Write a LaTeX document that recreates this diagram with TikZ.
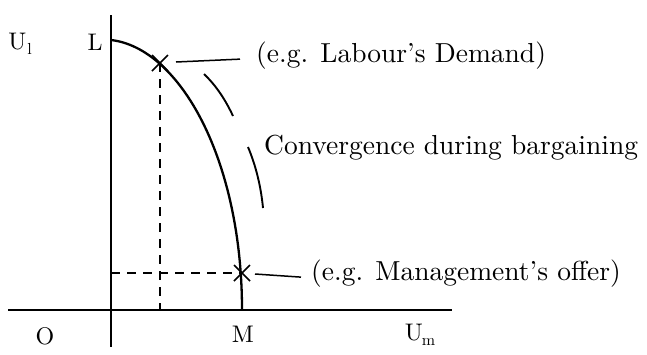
\documentclass[tikz,border=0pt]{standalone}
\usepackage{fontspec}
\setmainfont{lmroman10-regular.otf}
\usepackage{graphicx}
\usetikzlibrary{calc}
\begin{document}
\begin{tikzpicture}[x=1pt,y=-1pt,
  axis/.style={line width=2.3pt},
  frontier/.style={line width=2.3pt},
  guide/.style={line width=1.5pt, dash pattern=on 9pt off 7pt},
  leader/.style={line width=1.5pt},
  arcdash/.style={line width=1.9pt},
  cross/.style={line width=1.7pt},
  bigtext/.style={font=\fontsize{27.5}{30}\selectfont, inner sep=0pt, anchor=base west},
  axlab/.style={font=\fontsize{24}{27}\selectfont, inner sep=0pt, anchor=base}]
\useasboundingbox (0,0) rectangle (647,354);
% axes
\coordinate (O0) at (111,310);
\coordinate (ytop) at (111,15);
\coordinate (ybot) at (111,347);
\coordinate (xleft) at (8,310);
\coordinate (xright) at (452,310);
\draw[axis] (ytop) -- (ybot);
\draw[axis] (xleft) -- (xright);
% frontier
\coordinate (Lpt) at (111,40);
\coordinate (Mpt) at (242,310);
\draw[frontier] (Lpt) .. controls (180,48) and (242,160) .. (Mpt);
% points
\coordinate (A) at (160,63);
\coordinate (B) at (242,273);
\coordinate (Abase) at (160,310);
\coordinate (Baxis) at (111,273);
\draw[guide] (A) -- (Abase);
\draw[guide] (Baxis) -- (B);
\draw[cross] ($(A)+(-8,-8)$) -- ($(A)+(8,8)$) ($(A)+(-8,8)$) -- ($(A)+(8,-8)$);
\draw[cross] ($(B)+(-8,-8)$) -- ($(B)+(8,8)$) ($(B)+(-8,8)$) -- ($(B)+(8,-8)$);
% convergence arcs
\coordinate (c1s) at (204,74);
\coordinate (c1e) at (233,116);
\coordinate (c2s) at (248,147);
\coordinate (c2e) at (263,208);
\draw[arcdash] (c1s) .. controls (216.5,86) and (225.5,100) .. (c1e);
\draw[arcdash] (c2s) .. controls (256,166) and (261,187) .. (c2e);
% texts
\node[bigtext] (dem) at (256,62) {(e.g. Labour's Demand)};
\node[bigtext] (conv) at (264,154) {Convergence during bargaining};
\node[bigtext] (off) at (311,280) {(e.g. Management's offer)};
\draw[leader] ($(A)+(16,-1)$) -- ($(dem.west)+(-16,4)$);
\draw[leader] ($(B)+(13,1)$) -- ($(off.west)+(-10,4)$);
% axis labels
\node[axlab] (lL) at (95,50) {L};
\node[axlab] (lM) at (243,342) {M};
\node[axlab] (lO) at (45,344) {O};
\node[axlab] (lUl) at (20,49) {U\kern1pt\raisebox{-5pt}{\fontsize{16}{18}\selectfont l}};
\node[axlab] (lUm) at (420,340) {U\kern-1pt\raisebox{-5pt}{\fontsize{16}{18}\selectfont m}};
\end{tikzpicture}
\end{document}
